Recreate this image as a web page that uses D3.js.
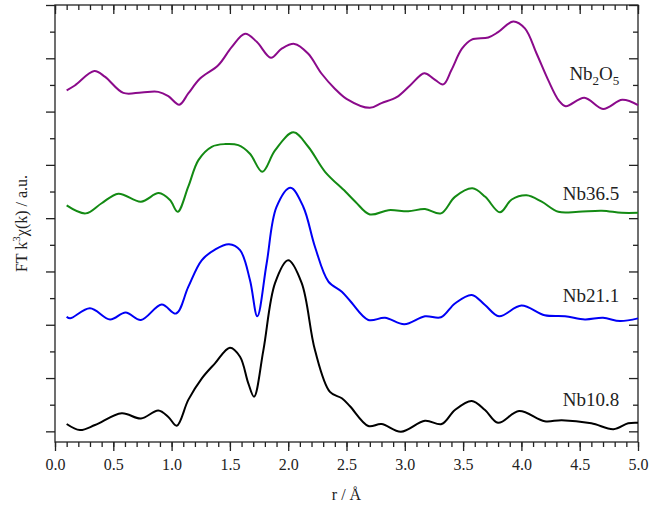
<!DOCTYPE html>
<html>
<head>
<meta charset="utf-8">
<script src="https://cdn.jsdelivr.net/npm/d3@7"></script>
<style>
  body { margin: 0; background: #fff; }
  svg { display: block; font-family: "Liberation Serif", "DejaVu Serif", serif; }
</style>
</head>
<body>
<div id="chart"></div>
<script>
// FT magnitude as [r (Å), FT k3χ(k) offset value]
const nb2o5 = [
  [0.10, 6.40], [0.17, 6.49], [0.337, 6.76], [0.43, 6.65], [0.586, 6.35], [0.743, 6.36],
  [0.886, 6.37], [0.972, 6.29], [1.066, 6.13], [1.143, 6.34], [1.244, 6.62], [1.40, 6.87],
  [1.515, 7.21], [1.63, 7.46], [1.73, 7.31], [1.852, 7.01], [1.944, 7.18], [2.053, 7.27],
  [2.17, 7.09], [2.287, 6.71], [2.40, 6.43], [2.50, 6.24], [2.70, 6.07], [2.80, 6.16],
  [2.93, 6.27], [3.045, 6.49], [3.167, 6.72], [3.245, 6.62], [3.33, 6.51], [3.40, 6.78],
  [3.49, 7.18], [3.574, 7.35], [3.716, 7.39], [3.80, 7.49], [3.93, 7.69], [4.03, 7.56],
  [4.13, 7.09], [4.23, 6.59], [4.32, 6.21], [4.38, 6.10], [4.54, 6.26], [4.70, 6.05],
  [4.865, 6.22], [5.0, 6.12]
];
const nb365 = [
  [0.10, 4.24], [0.263, 4.09], [0.40, 4.28], [0.543, 4.46], [0.737, 4.31], [0.89, 4.47],
  [0.986, 4.34], [1.052, 4.12], [1.143, 4.59], [1.23, 5.09], [1.344, 5.34], [1.458, 5.39],
  [1.572, 5.37], [1.672, 5.21], [1.778, 4.87], [1.887, 5.27], [2.044, 5.61], [2.172, 5.34],
  [2.316, 4.87], [2.49, 4.50], [2.58, 4.30], [2.70, 4.07], [2.86, 4.15], [3.03, 4.13],
  [3.173, 4.17], [3.31, 4.09], [3.43, 4.40], [3.58, 4.56], [3.69, 4.40], [3.816, 4.11],
  [3.917, 4.35], [4.045, 4.43], [4.174, 4.31], [4.317, 4.12], [4.49, 4.12], [4.69, 4.14],
  [4.86, 4.10], [5.0, 4.10]
];
const nb211 = [
  [0.10, 2.15], [0.13, 2.12], [0.30, 2.31], [0.472, 2.10], [0.606, 2.23], [0.737, 2.09],
  [0.915, 2.38], [1.038, 2.21], [1.143, 2.71], [1.258, 3.21], [1.372, 3.41], [1.492, 3.51],
  [1.587, 3.40], [1.672, 2.84], [1.735, 2.16], [1.815, 3.15], [1.90, 4.21], [2.02, 4.57],
  [2.13, 4.21], [2.23, 3.46], [2.345, 2.81], [2.46, 2.62], [2.53, 2.45], [2.687, 2.09],
  [2.83, 2.13], [2.996, 2.01], [3.173, 2.16], [3.31, 2.14], [3.43, 2.40], [3.574, 2.56],
  [3.688, 2.37], [3.808, 2.16], [4.0, 2.36], [4.20, 2.18], [4.374, 2.16], [4.545, 2.10],
  [4.70, 2.13], [4.846, 2.07], [5.0, 2.12]
];
const nb108 = [
  [0.10, 0.137], [0.214, 0.024], [0.343, 0.118], [0.572, 0.34], [0.737, 0.24], [0.886, 0.39],
  [0.972, 0.27], [1.044, 0.105], [1.143, 0.59], [1.258, 0.99], [1.372, 1.275], [1.50, 1.57],
  [1.587, 1.40], [1.658, 0.90], [1.707, 0.65], [1.787, 1.52], [1.887, 2.78], [2.0, 3.21],
  [2.116, 2.78], [2.23, 1.52], [2.358, 0.74], [2.46, 0.62], [2.53, 0.47], [2.687, 0.10],
  [2.80, 0.137], [2.967, -0.007], [3.173, 0.20], [3.316, 0.137], [3.43, 0.40], [3.574, 0.57],
  [3.688, 0.40], [3.80, 0.16], [3.98, 0.38], [4.20, 0.19], [4.346, 0.21], [4.60, 0.15],
  [4.79, 0.04], [4.916, 0.15], [5.0, 0.16]
];

const seriesNames = ["Nb2O5", "Nb36.5", "Nb21.1", "Nb10.8"];
const seriesColors = ["#8b0a8b", "#138a13", "#0000f5", "#000000"];
// label baseline, in y units
const labelY = [6.60, 4.35, 2.42, 0.47];

const xTicks = [0, 0.5, 1, 1.5, 2, 2.5, 3, 3.5, 4, 4.5, 5];
const yTicks = [0, 1, 2, 3, 4, 5, 6, 7, 8];

const W = 664, H = 506;
const margin = {top: 5, right: 26, bottom: 64, left: 55};
const width = W - margin.left - margin.right;
const height = H - margin.top - margin.bottom;

const svg = d3.select("#chart").append("svg")
  .attr("width", W)
  .attr("height", H);

const g = svg.append("g")
  .attr("transform", `translate(${margin.left},${margin.top})`);

const x = d3.scaleLinear().domain([0, 5]).range([0, width]);
const y = d3.scaleLinear().domain([-0.2, 8.0]).range([height, 0]);

const minorX = d3.range(0, 5.001, 0.1).map(v => +v.toFixed(1));
const minorY = d3.range(0.5, 8, 1);

function styleAxis(sel) {
  sel.selectAll(".domain").remove();
  sel.selectAll("line").attr("stroke", "#222").attr("stroke-width", 1.3);
}

// bottom: outward ticks with labels
g.append("g")
  .attr("transform", `translate(0,${height})`)
  .call(d3.axisBottom(x).tickValues(minorX).tickSize(5).tickFormat(""))
  .call(styleAxis);
g.append("g")
  .attr("transform", `translate(0,${height})`)
  .call(d3.axisBottom(x).tickValues(xTicks).tickSize(9).tickPadding(8).tickFormat(d3.format(".1f")))
  .call(styleAxis)
  .call(s => s.selectAll("text").attr("font-size", 16).attr("fill", "#222")
    .attr("font-family", "Liberation Serif, serif"));

// top: inward ticks
g.append("g")
  .call(d3.axisBottom(x).tickValues(minorX).tickSize(5).tickFormat(""))
  .call(styleAxis);
g.append("g")
  .call(d3.axisBottom(x).tickValues(xTicks).tickSize(9).tickFormat(""))
  .call(styleAxis);

// left: outward ticks, no labels
g.append("g")
  .call(d3.axisLeft(y).tickValues(minorY).tickSize(5).tickFormat(""))
  .call(styleAxis);
g.append("g")
  .call(d3.axisLeft(y).tickValues(yTicks).tickSize(9).tickFormat(""))
  .call(styleAxis);

// right: inward ticks
g.append("g")
  .attr("transform", `translate(${width},0)`)
  .call(d3.axisLeft(y).tickValues(minorY).tickSize(5).tickFormat(""))
  .call(styleAxis);
g.append("g")
  .attr("transform", `translate(${width},0)`)
  .call(d3.axisLeft(y).tickValues(yTicks).tickSize(9).tickFormat(""))
  .call(styleAxis);

// frame
g.append("rect")
  .attr("width", width)
  .attr("height", height)
  .attr("fill", "none")
  .attr("stroke", "#222")
  .attr("stroke-width", 1.3);

const line = d3.line()
  .x(d => x(d[0]))
  .y(d => y(d[1]))
  .curve(d3.curveCatmullRom.alpha(0.5));

[nb2o5, nb365, nb211, nb108].forEach((s, i) => {
  g.append("path")
    .datum(s)
    .attr("d", line)
    .attr("fill", "none")
    .attr("stroke", seriesColors[i])
    .attr("stroke-width", 2)
    .attr("stroke-linejoin", "round");
});

// series labels
const labelX = 4.84;
seriesNames.forEach((name, i) => {
  const t = g.append("text")
    .attr("x", x(labelX))
    .attr("y", y(labelY[i]))
    .attr("text-anchor", "end")
    .attr("font-size", 19)
    .attr("fill", "#222");
  if (name === "Nb2O5") {
    t.append("tspan").text("Nb");
    t.append("tspan").attr("font-size", 13).attr("dy", 5).text("2");
    t.append("tspan").attr("dy", -5).text("O");
    t.append("tspan").attr("font-size", 13).attr("dy", 5).text("5");
  } else {
    t.text(name);
  }
});

// axis titles
svg.append("text")
  .attr("x", margin.left + width / 2)
  .attr("y", 500)
  .attr("text-anchor", "middle")
  .attr("font-size", 16)
  .attr("fill", "#222")
  .text("r / Å");

const yt = svg.append("text")
  .attr("transform", `translate(27,${margin.top + height / 2}) rotate(-90)`)
  .attr("text-anchor", "middle")
  .attr("font-size", 16)
  .attr("fill", "#222");
yt.append("tspan").text("FT k");
yt.append("tspan").attr("font-size", 11).attr("dy", -7).text("3");
yt.append("tspan").attr("dy", 7).text("χ(k) / a.u.");
</script>
</body>
</html>
